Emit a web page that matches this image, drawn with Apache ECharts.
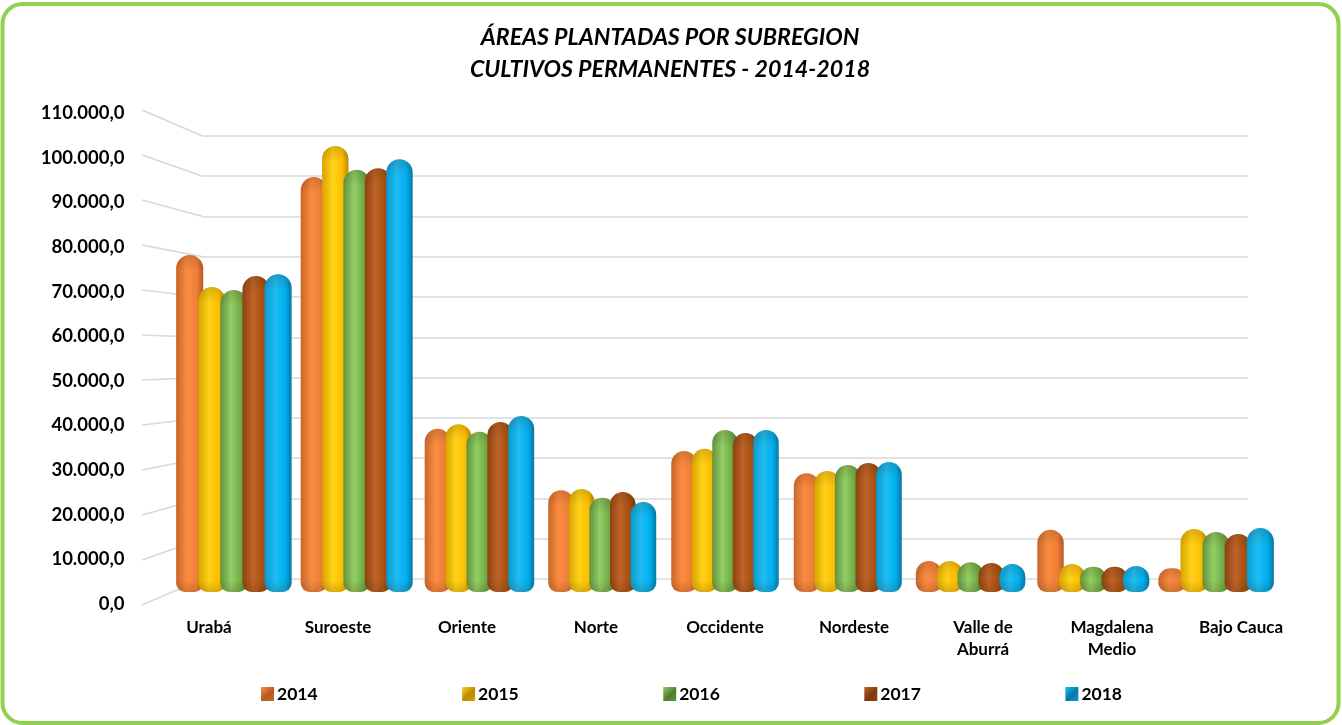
<!DOCTYPE html>
<html>
<head>
<meta charset="utf-8">
<style>
html,body{margin:0;padding:0;background:#fff;}
#main{width:1342px;height:725px;}
</style>
<script src="https://cdn.jsdelivr.net/npm/echarts@6/dist/echarts.min.js"></script>
</head>
<body>
<div id="main"></div>
<script>
var subregiones = ['Urabá','Suroeste','Oriente','Norte','Occidente','Nordeste','Valle de\nAburrá','Magdalena\nMedio','Bajo Cauca'];
var anios = ['2014','2015','2016','2017','2018'];
var v2014 = [79100,97400,38300,23900,33100,27900,7300,14600,5600];
var v2015 = [71600,104700,39400,24200,33600,28400,7300,6600,14800];
var v2016 = [70900,99100,37600,22100,38000,29800,7000,5900,14100];
var v2017 = [74200,99500,39900,23500,37300,30300,6800,5900,13600];
var v2018 = [74600,101600,41300,21100,38000,30500,6600,6100,15000];
var marcasY = [0,10000,20000,30000,40000,50000,60000,70000,80000,90000,100000,110000];

var maxY = 110000;
// tres planos: frente (etiquetas), fondo (lineas) y medio (barras)
var frente = {left:144.5, width:1161, top:113, height:491};
var pared = {x:142, top:110, height:495};
var fondo = {left:202, width:1046, top:135.7, height:443.5};
var medio = {left:172.5, width:1105, top:123.4, height:468.6};

var tonos = [
	['#C9652A','#FA8C40','#F0803A','#B85A20'],
	['#D9A300','#FFD21A','#FFC000','#B88A00'],
	['#5F9440','#93CF66','#70AD47','#4E7E33'],
	['#8E420F','#C0632A','#A5500F','#7C3A0B'],
	['#0A9AD0','#1FBDF2','#00B0F0','#0579A6']
];

function gradiente(t){
	return new echarts.graphic.LinearGradient(0,0,1,0,[
		{offset:0,color:t[0]},
		{offset:0.4,color:t[1]},
		{offset:0.75,color:t[2]},
		{offset:1,color:t[3]}
	]);
}
function iconoLeyenda(t){
	return new echarts.graphic.LinearGradient(0,0,1,1,[
		{offset:0,color:t[1]},
		{offset:0.55,color:t[3]},
		{offset:1,color:t[0]}
	]);
}
function formatoY(v){
	var s = String(v).replace(/\B(?=(\d{3})+$)/g,'.');
	return s+',0';
}
function lineaPared(params,api){
	var v = api.value(0);
	var f = pared.top+pared.height*(1-v/maxY);
	var b = fondo.top+fondo.height*(1-v/maxY);
	return {
		type:'line',
		shape:{x1:pared.x,y1:f,x2:fondo.left,y2:b},
		style:{stroke:'#D9D9D9',lineWidth:1.6}
	};
}
// cada barra es un cilindro: cuerpo con degradado y sombra arriba y abajo
function barraCilindro(s){
	return function(params,api){
		var cat = api.value(0);
		var p = api.coord([cat,api.value(1)]);
		var base = api.coord([cat,0]);
		var d = Math.abs(cat-4);
		var w = 25.5+d*d*0.1;
		var x = p[0]+(s-2)*(w-5)-w/2;
		var h = base[1]-p[1];
		var rs = Math.min(w/2,h/2);
		var ri = Math.min(9,h/2);
		var hs = Math.min(16,h/2);
		var hi = Math.min(12,h/2);
		return {
			type:'group',
			children:[
				{type:'rect',shape:{x:x,y:p[1],width:w,height:h,r:[rs,rs,ri,ri]},style:{fill:gradiente(tonos[s])}},
				{type:'rect',shape:{x:x,y:p[1],width:w,height:hs,r:[rs,rs,0,0]},
					style:{fill:new echarts.graphic.LinearGradient(0,0,0,1,[
						{offset:0,color:'rgba(60,30,0,0.18)'},{offset:1,color:'rgba(60,30,0,0)'}])}},
				{type:'rect',shape:{x:x,y:base[1]-hi,width:w,height:hi,r:[0,0,ri,ri]},
					style:{fill:new echarts.graphic.LinearGradient(0,0,0,1,[
						{offset:0,color:'rgba(60,30,0,0)'},{offset:1,color:'rgba(60,30,0,0.18)'}])}}
			]
		};
	};
}

var todas = [v2014,v2015,v2016,v2017,v2018];
var series = [{
	type:'custom',
	xAxisIndex:0,
	yAxisIndex:0,
	renderItem:lineaPared,
	data:marcasY.map(function(v){return [v];}),
	encode:{y:0},
	silent:true,
	clip:false,
	z:1
}];
for (var i = 0; i < todas.length; i++) {
	series.push({
		name:anios[i],
		type:'custom',
		xAxisIndex:2,
		yAxisIndex:2,
		renderItem:barraCilindro(i),
		data:todas[i].map(function(v,c){return [c,v];}),
		encode:{x:0,y:1},
		clip:false,
		z:3+i,
		itemStyle:{color:tonos[i][2]}
	});
}

var chart = echarts.init(document.getElementById('main'),null,{renderer:'canvas'});
chart.setOption({
	animation:false,
	backgroundColor:'#fff',
	textStyle:{fontFamily:'Lato'},
	title:{
		text:'ÁREAS PLANTADAS POR SUBREGION\nCULTIVOS PERMANENTES - 2014-2018',
		left:665,
		top:17,
		textAlign:'center',
		textStyle:{fontFamily:'Lato',fontSize:23.2,fontWeight:'bold',fontStyle:'italic',color:'#000',lineHeight:32}
	},
	legend:{
		left:256,
		top:680,
		itemWidth:13,
		itemHeight:14,
		itemGap:144.5,
		selectedMode:false,
		icon:'rect',
		textStyle:{fontFamily:'Lato',fontSize:17.5,fontWeight:'bold',color:'#000',padding:[0,0,0,-2]},
		data:anios.map(function(a,i){return {name:a,itemStyle:{color:iconoLeyenda(tonos[i])}};})
	},
	graphic:[{
		type:'rect',
		shape:{x:2.5,y:4,width:1336,height:719,r:20},
		style:{fill:'none',stroke:'#92D050',lineWidth:4},
		silent:true,
		z:100
	}],
	grid:[
		{left:frente.left,width:frente.width,top:frente.top,height:frente.height},
		{left:fondo.left,width:fondo.width,top:fondo.top,height:fondo.height},
		{left:medio.left,width:medio.width,top:medio.top,height:medio.height}
	],
	xAxis:[
		{gridIndex:0,type:'category',data:subregiones,
			axisLine:{show:false},axisTick:{show:false},
			axisLabel:{margin:13,fontFamily:'Lato',fontSize:17,fontWeight:'bold',color:'#000',lineHeight:22,interval:0}},
		{gridIndex:1,type:'category',data:subregiones,show:false},
		{gridIndex:2,type:'category',data:subregiones,show:false}
	],
	yAxis:[
		{gridIndex:0,type:'value',min:0,max:maxY,interval:10000,
			axisLine:{show:false},axisTick:{show:false},splitLine:{show:false},
			axisLabel:{margin:20,fontFamily:'Lato',fontSize:18.5,fontWeight:'bold',color:'#000',formatter:formatoY}},
		{gridIndex:1,type:'value',min:0,max:maxY,interval:10000,
			axisLine:{show:false},axisTick:{show:false},axisLabel:{show:false},
			splitLine:{show:true,lineStyle:{color:'#D9D9D9',width:1.6}}},
		{gridIndex:2,type:'value',min:0,max:maxY,interval:10000,show:false,splitLine:{show:false}}
	],
	series:series
});
</script>
</body>
</html>
